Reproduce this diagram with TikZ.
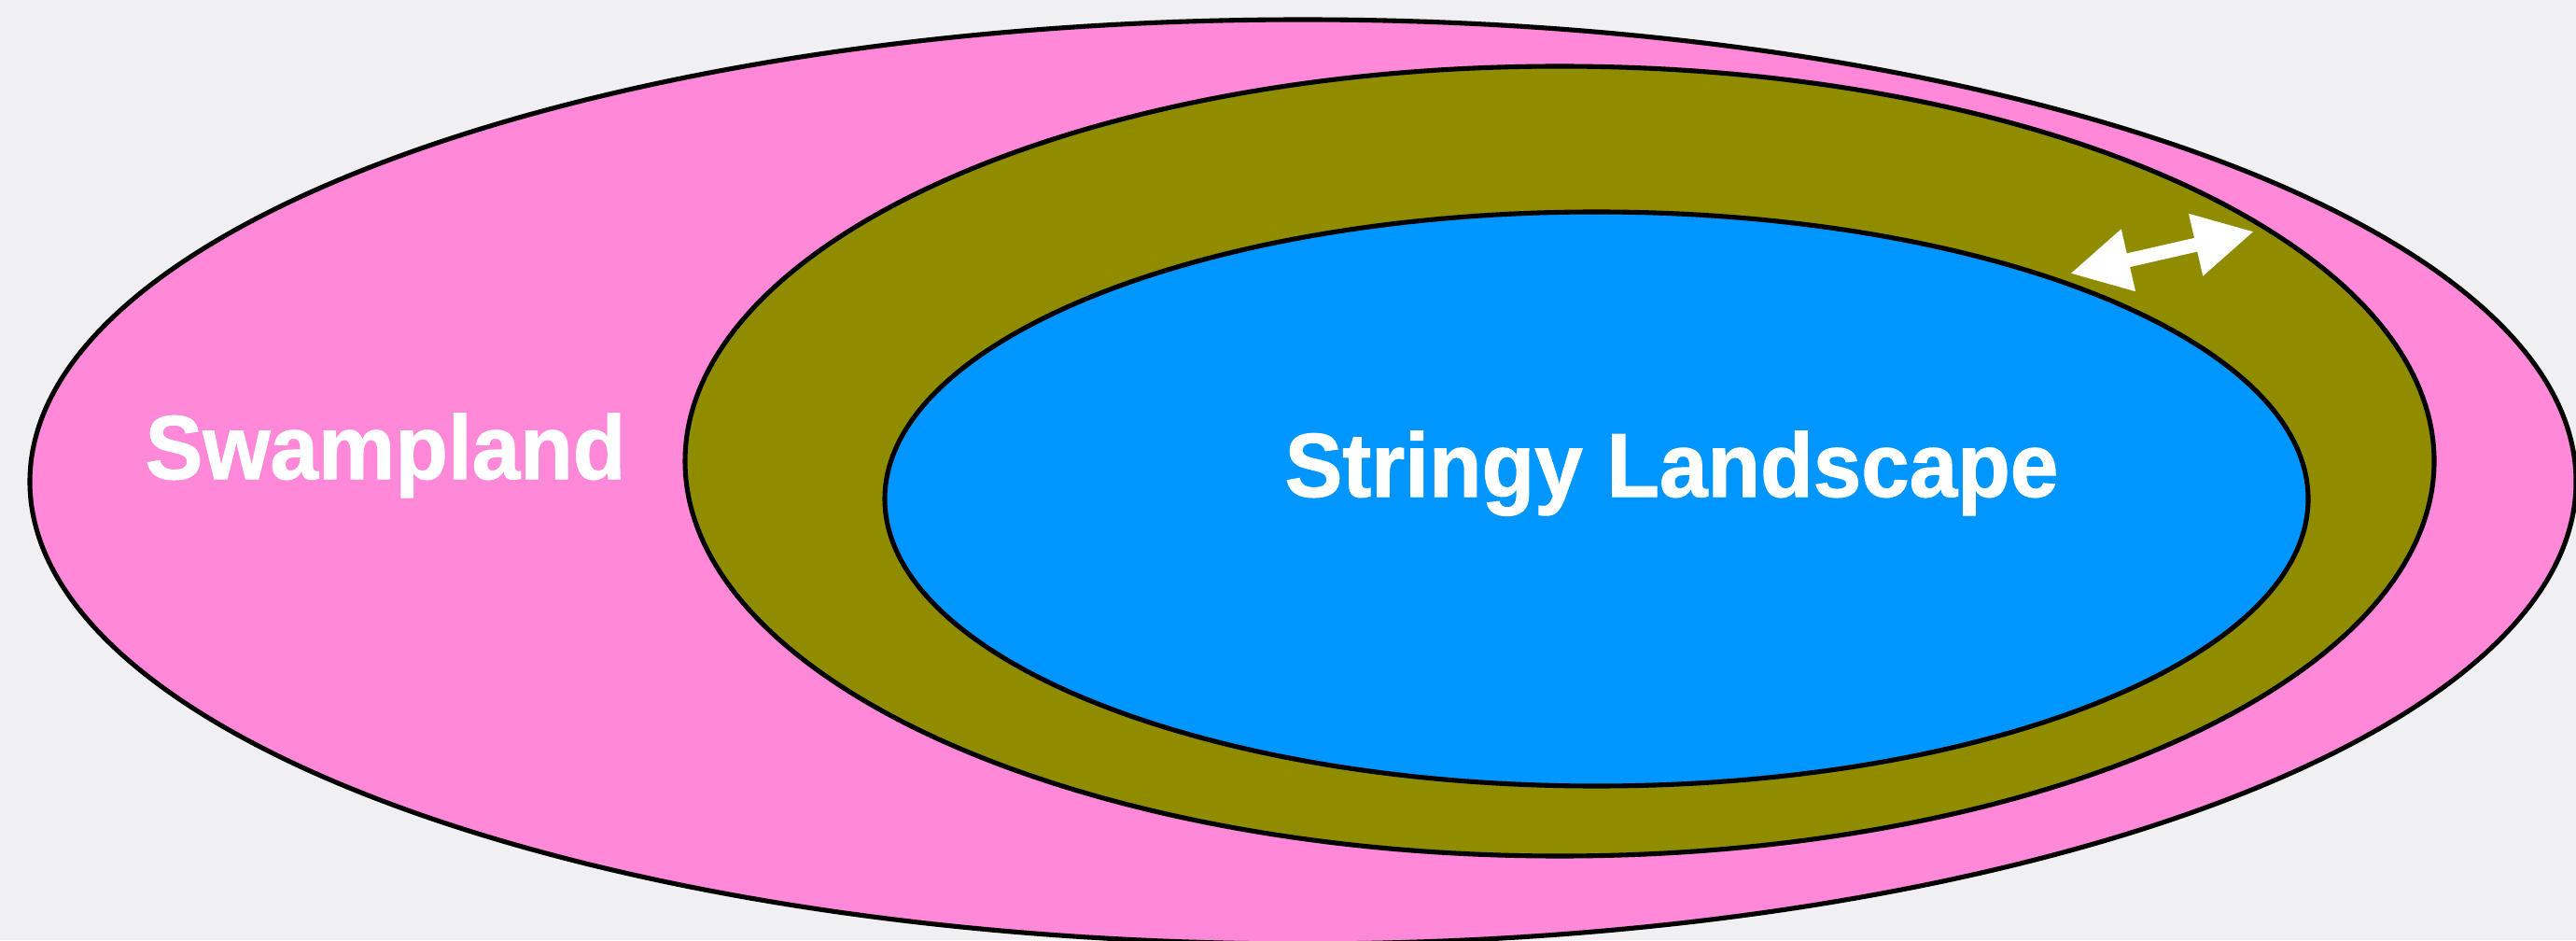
\documentclass[tikz,border=0pt]{standalone}
\usepackage{fontspec}
\setmainfont{Liberation Sans}[BoldFeatures={FakeBold=1.2}]
\usepackage{tikz}
\usetikzlibrary{arrows.meta,positioning}
\definecolor{fondo}{RGB}{240,240,242}
\definecolor{swamppink}{RGB}{255,136,216}
\definecolor{olivo}{RGB}{143,140,0}
\definecolor{celeste}{RGB}{0,150,255}
\tikzset{
  region/.style={
    draw=black,
    line width=1.45pt
  },
  etiqueta/.style={
    text=white,
    font=\fontsize{27.6}{31}\selectfont\bfseries,
    inner sep=0pt,
    anchor=base,
    xscale=0.955,
    transform shape
  },
  flecha/.style={
    {Triangle[length=0.64cm,width=0.64cm]}-{Triangle[length=0.64cm,width=0.64cm]},
    line width=0.15cm,
    white
  }
}

\begin{document}
\begin{tikzpicture}
\useasboundingbox (0,0) rectangle (27.6,10.07);
\clip (0,0) rectangle (27.6,10.07);
\fill[fondo] (0,0) rectangle (27.6,10.07);
% three nested regions
\draw[region,fill=swamppink] (13.96,4.91) ellipse [x radius=13.64,y radius=4.95];
\draw[region,fill=olivo] (16.71,5.13) ellipse [x radius=9.37,y radius=4.23];
\draw[region,fill=celeste] (17.105,4.725) ellipse [x radius=7.625,y radius=3.075];
\node[etiqueta] (swamp) at (4.13,4.94) {Swampland};
\node[etiqueta] (land) at (17.91,4.75) {Stringy Landscape};
% double arrow across the olive band
\coordinate (ga) at (22.18,7.14);
\coordinate (gb) at (24.15,7.59);
\draw[flecha] (ga) -- (gb);
\end{tikzpicture}
\end{document}
